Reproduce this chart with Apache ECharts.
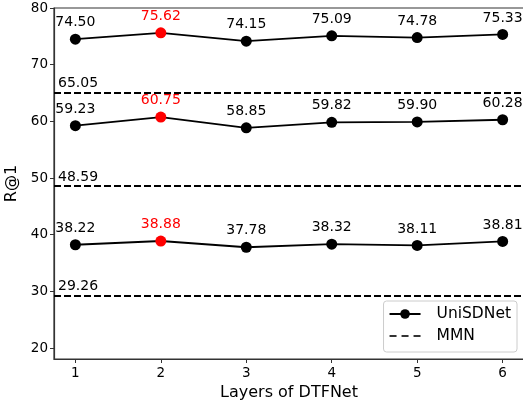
<!DOCTYPE html>
<html>
<head>
<meta charset="utf-8">
<script src="https://cdn.jsdelivr.net/npm/echarts@6/dist/echarts.min.js"></script>
<style>
  html, body { margin: 0; padding: 0; background: #fff; }
  #chart { width: 523px; height: 400px; }
</style>
</head>
<body>
<div id="chart"></div>
<script>
// layers of DTFNet
const layers = [1, 2, 3, 4, 5, 6];
// UniSDNet R@1 at three IoU levels
const uniHigh = [74.50, 75.62, 74.15, 75.09, 74.78, 75.33];
const uniMid = [59.23, 60.75, 58.85, 59.82, 59.90, 60.28];
const uniLow = [38.22, 38.88, 37.78, 38.32, 38.11, 38.81];
// MMN baselines
const mmn = [65.05, 48.59, 29.26];
const bestIndex = 1;
const yTicks = [20, 30, 40, 50, 60, 70, 80];

const FONT = 'DejaVu Sans';
const DASH_ICON = 'path://M0,0 M0,12 M0,5 h7 v2 h-7 z M12,5 h7 v2 h-7 z M24,5 h7 v2 h-7 z';
const chart = echarts.init(document.getElementById('chart'));

function uniSeries(values) {
  return {
    name: 'UniSDNet',
    type: 'line',
    symbol: 'circle',
    symbolSize: 11,
    color: '#000',
    lineStyle: { color: '#000', width: 1.8 },
    itemStyle: { color: '#000' },
    label: {
      show: true, position: 'top', distance: 4,
      color: '#000', fontFamily: FONT, fontSize: 14,
      formatter: p => p.value[1].toFixed(2)
    },
    z: 3,
    data: values.map((v, i) => i === bestIndex
      ? { value: [layers[i], v], itemStyle: { color: '#ff0000' }, label: { color: '#ff0000' } }
      : [layers[i], v])
  };
}

chart.setOption({
  animation: false,
  grid: {
    left: 54, right: -1, top: 8, bottom: 41, containLabel: false, outerBoundsMode: 'none',
    show: true, borderColor: '#333', borderWidth: 1.2, backgroundColor: 'transparent'
  },
  legend: {
    right: 6, bottom: 48,
    orient: 'vertical',
    itemWidth: 31, itemHeight: 12, itemGap: 6,
    padding: [5, 6, 8, 5],
    borderColor: '#cccccc', borderWidth: 1, borderRadius: 3,
    backgroundColor: 'rgba(255,255,255,0.8)',
    textStyle: { fontFamily: FONT, fontSize: 15.5, color: '#000', padding: [0, 0, 0, 11] },
    data: ['UniSDNet', { name: 'MMN', icon: DASH_ICON }]
  },
  xAxis: {
    type: 'value', min: 0.75, max: 6.25,
    name: 'Layers of DTFNet', nameLocation: 'middle', nameGap: 25,
    nameTextStyle: { fontFamily: FONT, fontSize: 16, color: '#000' },
    axisLine: { lineStyle: { color: '#333', width: 1.2 } },
    axisTick: { show: true, length: 4, customValues: layers, lineStyle: { color: '#333' } },
    axisLabel: { customValues: layers, fontFamily: FONT, fontSize: 13.5, color: '#000', margin: 7 },
    splitLine: { show: false }
  },
  yAxis: {
    type: 'value', min: 18.06, max: 80,
    name: 'R@1', nameLocation: 'middle', nameGap: 27, nameRotate: 90,
    nameTextStyle: { fontFamily: FONT, fontSize: 16, color: '#000' },
    axisLine: { show: true, lineStyle: { color: '#333', width: 1.2 } },
    axisTick: { show: true, length: 4, customValues: yTicks, lineStyle: { color: '#333' } },
    axisLabel: { customValues: yTicks, fontFamily: FONT, fontSize: 13.5, color: '#000', margin: 6 },
    splitLine: { show: false }
  },
  series: [
    uniSeries(uniHigh),
    uniSeries(uniMid),
    uniSeries(uniLow),
    {
      name: 'MMN',
      type: 'scatter',
      color: '#000',
      itemStyle: { color: '#000' },
      data: [],
      markLine: {
        silent: true,
        symbol: 'none',
        lineStyle: { color: '#000', width: 1.8, type: [7, 3] },
        label: {
          show: true, position: 'insideStartTop', distance: [4, 2],
          fontFamily: FONT, fontSize: 14, color: '#000',
          formatter: p => Number(p.value).toFixed(2)
        },
        data: mmn.map(v => ({ yAxis: v }))
      }
    }
  ]
});
</script>
</body>
</html>
